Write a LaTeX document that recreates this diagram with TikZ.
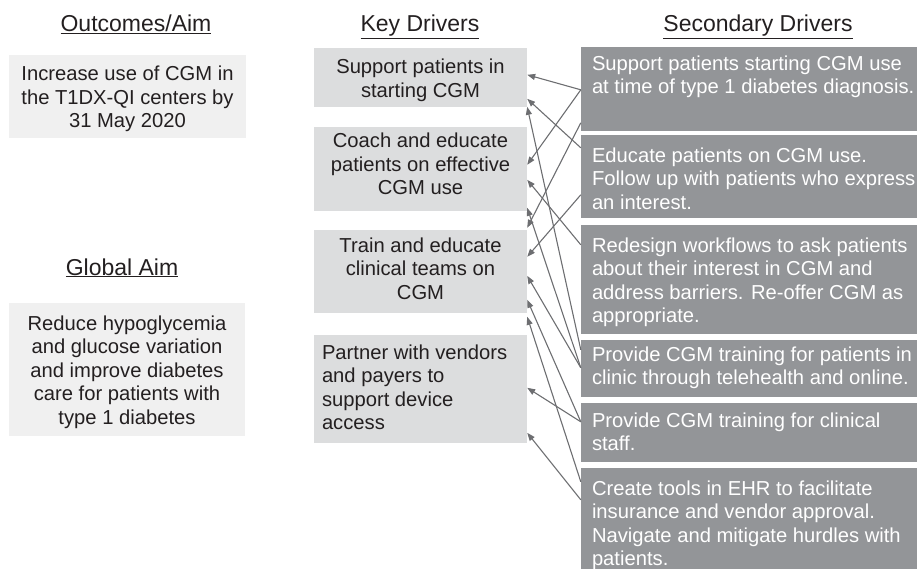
\documentclass[tikz,border=0pt]{standalone}
\usepackage{fontspec}
\setmainfont{Liberation Sans}
\usetikzlibrary{arrows.meta,calc}
\definecolor{txt}{HTML}{231F20}
\definecolor{lightbox}{HTML}{F0F0F0}
\definecolor{keyfill}{HTML}{DCDDDE}
\definecolor{secfill}{HTML}{939598}
\definecolor{conncol}{HTML}{6D6E71}
\begin{document}
\begin{tikzpicture}[x=1pt,y=-1pt,
  font=\fontsize{20.2}{23.5}\selectfont, text=txt,
  hdr/.style={font=\fontsize{23}{26}\selectfont, inner sep=0pt, anchor=base},
  obox/.style={fill=lightbox, inner sep=0pt},
  kbox/.style={fill=keyfill, inner sep=0pt},
  sbox/.style={fill=secfill, inner sep=0pt},
  ctext/.style={align=center, inner sep=0pt},
  ltext/.style={align=left, inner sep=0pt, anchor=north west},
  stext/.style={ltext, text=white},
  conn/.style={draw=conncol, line width=1.1pt, -{Triangle[length=8pt,width=6pt]}}]
\useasboundingbox (0,0) rectangle (917,569);

% headers
\node[hdr] (h1) at (136,31.7) {\underline{Outcomes/Aim}};
\node[hdr] (h2) at (420,31.7) {\underline{Key Drivers}};
\node[hdr] (h3) at (758,31.7) {\underline{Secondary Drivers}};
\node[hdr] (h4) at (122,275) {\underline{Global Aim}};

% outcome boxes
\node[obox, minimum width=237pt, minimum height=83pt] (o1) at (127.5,96.5) {};
\node[ctext] (o1t) at (127.5,99.6) {\strut Increase use of CGM in\\\strut the T1DX-QI centers by\\\strut 31 May 2020};
\node[obox, minimum width=236pt, minimum height=133pt] (o2) at (127,369.5) {};
\node[ctext] (o2t) at (127,372.6) {\strut Reduce hypoglycemia\\\strut and glucose variation\\\strut and improve diabetes\\\strut care for patients with\\\strut type 1 diabetes};

% key drivers
\node[kbox, minimum width=213pt, minimum height=59pt] (k1) at (420.5,77.5) {};
\node[ctext] (k1t) at (420.5,80.6) {\strut Support patients in\\\strut starting CGM};
\node[kbox, minimum width=213pt, minimum height=84pt] (k2) at (420.5,169) {};
\node[ctext] (k2t) at (420.5,166.6) {\strut Coach and educate\\\strut patients on effective\\\strut CGM use};
\node[kbox, minimum width=213pt, minimum height=83pt] (k3) at (420.5,271.5) {};
\node[ctext] (k3t) at (420.5,271) {\strut Train and educate\\\strut clinical teams on\\\strut CGM};
\node[kbox, minimum width=213pt, minimum height=108pt] (k4) at (420.5,389) {};
\node[ltext] (k4t) at ([xshift=8pt,yshift=-7.85pt]k4.north west) {\strut Partner with vendors\\\strut and payers to\\\strut support device\\\strut access};

% secondary drivers
\node[sbox, minimum width=336pt, minimum height=84pt] (s1) at (749,89) {};
\node[stext] (s1t) at ([xshift=11pt,yshift=-6.85pt]s1.north west) {\strut Support patients starting CGM use\\\strut at time of type 1 diabetes diagnosis.};
\node[sbox, minimum width=336pt, minimum height=83pt] (s2) at (749,176.5) {};
\node[stext] (s2t) at ([xshift=11pt,yshift=-10.85pt]s2.north west) {\strut Educate patients on CGM use.\\\strut Follow up with patients who express\\\strut an interest.};
\node[sbox, minimum width=336pt, minimum height=109pt] (s3) at (749,279.5) {};
\node[stext] (s3t) at ([xshift=11pt,yshift=-10.85pt]s3.north west) {\strut Redesign workflows to ask patients\\\strut about their interest in CGM and\\\strut address barriers. Re-offer CGM as\\\strut appropriate.};
\node[sbox, minimum width=336pt, minimum height=57pt] (s4) at (749,368.5) {};
\node[stext] (s4t) at ([xshift=11pt,yshift=-4.85pt]s4.north west) {\strut Provide CGM training for patients in\\\strut clinic through telehealth and online.};
\node[sbox, minimum width=336pt, minimum height=59pt] (s5) at (749,432.5) {};
\node[stext] (s5t) at ([xshift=11pt,yshift=-7.85pt]s5.north west) {\strut Provide CGM training for clinical\\\strut staff.};
\node[sbox, minimum width=336pt, minimum height=101pt] (s6) at (749,518.5) {};
\node[stext] (s6t) at ([xshift=11pt,yshift=-10.85pt]s6.north west) {\strut Create tools in EHR to facilitate\\\strut insurance and vendor approval.\\\strut Navigate and mitigate hurdles with\\\strut patients.};

% connectors
\draw[conn] ([yshift=-43pt]s1.north west) -- ([yshift=-27pt]k1.north east);
\draw[conn] ([yshift=-13pt]s2.north west) -- ([yshift=-51pt]k1.north east);
\draw[conn] ([yshift=-10pt]s4.north west) -- ([yshift=-59pt]k1.north east);
\draw[conn] ([yshift=-43pt]s1.north west) -- ([yshift=-38pt]k2.north east);
\draw[conn] ([yshift=-20pt]s3.north west) -- ([yshift=-53pt]k2.north east);
\draw[conn] ([yshift=-28pt]s4.north west) -- ([yshift=-81pt]k2.north east);
\draw[conn] ([yshift=-76pt]s1.north west) -- ([yshift=2pt]k3.north east);
\draw[conn] ([yshift=-60pt]s2.north west) -- ([yshift=-27pt]k3.north east);
\draw[conn] ([yshift=-28pt]s4.north west) -- ([yshift=-46pt]k3.north east);
\draw[conn] ([yshift=-19pt]s5.north west) -- ([yshift=-70pt]k3.north east);
\draw[conn] ([yshift=-14pt]s6.north west) -- ([yshift=-87pt]k3.north east);
\draw[conn] ([yshift=-19pt]s5.north west) -- ([yshift=-53pt]k4.north east);
\draw[conn] ([yshift=-32pt]s6.north west) -- ([yshift=-98pt]k4.north east);
\end{tikzpicture}
\end{document}
